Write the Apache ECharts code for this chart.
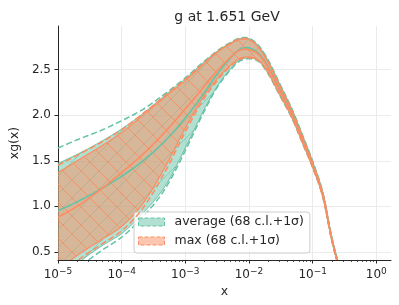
<!DOCTYPE html>
<html><head><meta charset="utf-8">
<script src="https://cdn.jsdelivr.net/npm/echarts@6/dist/echarts.min.js"></script>
<style>html,body{margin:0;padding:0;background:#fff}#c{width:399px;height:305px}</style>
</head><body><div id="c"></div>
<script>
// ---- data ----
const xs       = [1e-5, 2e-5, 5e-5, 1e-4, 2e-4, 5e-4, 1e-3, 2e-3, 3e-3, 5e-3, 7e-3, 1e-2, 1.5e-2, 2e-2, 3e-2, 5e-2, 7e-2, 0.1, 0.15, 0.2, 0.25, 0.3, 0.4, 0.5, 0.7, 1.0];
const avgCv    = [0.95, 1.05, 1.20, 1.33, 1.48, 1.73, 1.97, 2.25, 2.43, 2.62, 2.72, 2.74, 2.66, 2.53, 2.29, 1.98, 1.73, 1.46, 1.08, 0.64, 0.38, 0.21, 0.07, 0.02, 0.002, 0];
const avgUp68  = [1.47, 1.57, 1.72, 1.85, 2.00, 2.23, 2.40, 2.59, 2.69, 2.79, 2.84, 2.84, 2.74, 2.60, 2.35, 2.025, 1.77, 1.49, 1.10, 0.655, 0.39, 0.22, 0.075, 0.022, 0.003, 0];
const avgDn68  = [0.12, 0.36, 0.57, 0.70, 0.90, 1.24, 1.64, 2.07, 2.29, 2.50, 2.60, 2.63, 2.58, 2.46, 2.23, 1.935, 1.69, 1.43, 1.06, 0.625, 0.37, 0.20, 0.065, 0.018, 0.001, 0];
const avgUpStd = [1.64, 1.73, 1.84, 1.94, 2.05, 2.245, 2.41, 2.595, 2.695, 2.795, 2.845, 2.845, 2.745, 2.605, 2.355, 2.03, 1.775, 1.495, 1.105, 0.66, 0.395, 0.225, 0.078, 0.024, 0.003, 0];
const avgDnStd = [0.05, 0.30, 0.52, 0.66, 0.86, 1.21, 1.61, 2.05, 2.28, 2.49, 2.59, 2.62, 2.575, 2.455, 2.225, 1.93, 1.685, 1.425, 1.055, 0.62, 0.365, 0.195, 0.062, 0.016, 0.001, 0];
const maxCv    = [0.88, 1.00, 1.20, 1.37, 1.55, 1.83, 2.07, 2.32, 2.47, 2.63, 2.71, 2.72, 2.65, 2.52, 2.28, 1.97, 1.72, 1.45, 1.075, 0.635, 0.375, 0.205, 0.068, 0.02, 0.002, 0];
const maxUp68  = [1.37, 1.50, 1.67, 1.81, 1.98, 2.21, 2.38, 2.57, 2.68, 2.78, 2.83, 2.83, 2.72, 2.58, 2.33, 2.01, 1.755, 1.475, 1.09, 0.645, 0.385, 0.215, 0.072, 0.021, 0.003, 0];
const maxDn68  = [0.30, 0.46, 0.64, 0.78, 1.00, 1.45, 1.86, 2.22, 2.38, 2.54, 2.62, 2.64, 2.59, 2.47, 2.24, 1.94, 1.69, 1.43, 1.06, 0.625, 0.365, 0.198, 0.064, 0.018, 0.001, 0];
const maxUpStd = [1.45, 1.56, 1.71, 1.84, 2.00, 2.225, 2.395, 2.58, 2.685, 2.785, 2.835, 2.835, 2.725, 2.585, 2.335, 2.015, 1.76, 1.48, 1.095, 0.65, 0.39, 0.22, 0.074, 0.022, 0.003, 0];
const maxDnStd = [0.22, 0.40, 0.59, 0.73, 0.95, 1.40, 1.82, 2.19, 2.36, 2.53, 2.61, 2.63, 2.585, 2.465, 2.235, 1.935, 1.685, 1.425, 1.055, 0.62, 0.36, 0.195, 0.062, 0.017, 0.001, 0];
const legendNames = ['average (68 c.l.+1σ)', 'max (68 c.l.+1σ)'];
const titleText = 'g at 1.651 GeV';
const xName = 'x', yName = 'xg(x)';
const xMin = 1e-5, xMax = 1.7, yMin = 0.41, yMax = 2.98;

// ---- styling ----
const FONT = 'DejaVu Sans';
const G = '#66c2a5', O = '#fc8d62', INK = '#262626';

function hatch(dir, fill, line, lw, s) {
  const c = document.createElement('canvas'); c.width = s; c.height = s;
  const g = c.getContext('2d');
  g.fillStyle = fill; g.fillRect(0, 0, s, s);
  g.strokeStyle = line; g.lineWidth = lw; g.beginPath();
  if (dir === '/') {
    g.moveTo(-2, s + 2); g.lineTo(s + 2, -2);
    g.moveTo(-2, 2); g.lineTo(2, -2);
    g.moveTo(s - 2, s + 2); g.lineTo(s + 2, s - 2);
  } else {
    g.moveTo(-2, -2); g.lineTo(s + 2, s + 2);
    g.moveTo(s - 2, -2); g.lineTo(s + 2, 2);
    g.moveTo(-2, s - 2); g.lineTo(2, s + 2);
  }
  g.stroke();
  return c;
}
const gPat = hatch('/', 'rgba(102,194,165,0.5)', 'rgba(102,194,165,0.55)', 1, 18);
const oPat = hatch('\\', 'rgba(252,141,98,0.5)', 'rgba(252,141,98,0.95)', 1, 18);

// smooth curve through pixel points (cubic Hermite, y as function of x)
function smoothPts(P) {
  const n = P.length, d = [], m = [];
  for (let i = 0; i < n - 1; i++) d.push((P[i + 1][1] - P[i][1]) / (P[i + 1][0] - P[i][0]));
  for (let i = 0; i < n; i++) {
    if (i === 0) m.push(d[0]);
    else if (i === n - 1) m.push(d[n - 2]);
    else { const h0 = P[i][0] - P[i - 1][0], h1 = P[i + 1][0] - P[i][0]; m.push((d[i - 1] * h1 + d[i] * h0) / (h0 + h1)); }
  }
  const out = [P[0]];
  for (let i = 0; i < n - 1; i++) {
    const h = P[i + 1][0] - P[i][0], steps = Math.max(2, Math.ceil(h / 1.5));
    for (let s = 1; s <= steps; s++) {
      const t = s / steps, t2 = t * t, t3 = t2 * t;
      const y = (2 * t3 - 3 * t2 + 1) * P[i][1] + (t3 - 2 * t2 + t) * h * m[i] + (-2 * t3 + 3 * t2) * P[i + 1][1] + (t3 - t2) * h * m[i + 1];
      out.push([P[i][0] + h * t, y]);
    }
  }
  return out;
}
function clipOf(params) { const c = params.coordSys; return { type: 'rect', shape: { x: c.x, y: c.y, width: c.width, height: c.height } }; }
function curve(api, ys) { return smoothPts(xs.map((x, i) => api.coord([x, ys[i]]))); }

function bandSeries(name, up, dn, pattern, edge, edgeW) {
  return {
    type: 'custom', name, silent: true, z: 1, data: [[1e-3, 1]],
    renderItem: (params, api) => {
      const top = curve(api, up), bot = curve(api, dn);
      return { type: 'group', clipPath: clipOf(params), children: [
        { type: 'polygon', shape: { points: top.concat(bot.slice().reverse()) }, style: { fill: { image: pattern, repeat: 'repeat' }, stroke: null } },
        { type: 'polyline', shape: { points: top }, style: { stroke: edge, lineWidth: edgeW, fill: null } },
        { type: 'polyline', shape: { points: bot }, style: { stroke: edge, lineWidth: edgeW, fill: null } }
      ] };
    }
  };
}
function lineSeries(name, ys, color, width, dash, z) {
  return {
    type: 'custom', name, silent: true, z, data: [[1e-3, 1]],
    renderItem: (params, api) => ({ type: 'group', clipPath: clipOf(params), children: [
      { type: 'polyline', shape: { points: curve(api, ys) }, style: { stroke: color, lineWidth: width, fill: null, lineDash: dash || null } }
    ] })
  };
}

const minorTicks = [];
for (let e = -5; e <= 0; e++) for (let k = 2; k <= 9; k++) { const v = k * Math.pow(10, e); if (v <= xMax) minorTicks.push(v); }

const chart = echarts.init(document.getElementById('c'), null, { renderer: 'canvas' });
chart.setOption({
  animation: false,
  backgroundColor: '#fff',
  textStyle: { fontFamily: FONT },
  title: { text: titleText, left: 222, top: 5, textAlign: 'center',
    textStyle: { fontFamily: FONT, fontSize: 14, fontWeight: 'normal', color: INK } },
  grid: { left: 53, right: 8, top: 26, bottom: 45, containLabel: false },
  legend: {
    orient: 'vertical', left: 134, top: 212, selectedMode: false,
    data: [
      { name: legendNames[0], itemStyle: { color: 'rgba(102,194,165,0.5)', borderColor: G, borderWidth: 1, borderType: 'dashed' } },
      { name: legendNames[1], itemStyle: { color: 'rgba(252,141,98,0.5)', borderColor: O, borderWidth: 1, borderType: 'dashed' } }
    ],
    icon: 'rect', itemWidth: 26, itemHeight: 8, itemGap: 5,
    padding: [3, 6, 5, 4],
    backgroundColor: 'rgba(255,255,255,0.8)', borderColor: '#cccccc', borderWidth: 1, borderRadius: 3,
    textStyle: { fontFamily: FONT, fontSize: 12.5, color: INK, lineHeight: 14, padding: [0, 0, 0, 5] }
  },
  xAxis: {
    type: 'log', logBase: 10, min: xMin, max: xMax,
    name: xName, nameLocation: 'middle', nameGap: 24,
    nameTextStyle: { fontFamily: FONT, fontSize: 12.5, color: INK },
    axisLine: { show: true, onZero: false, lineStyle: { color: INK, width: 1 } },
    axisTick: { show: true, inside: false, length: 3.5, lineStyle: { color: INK } },
    splitLine: { show: true, showMaxLine: false, lineStyle: { color: '#ebebeb', width: 1 } },
    axisLabel: {
      margin: 7, showMaxLabel: false,
      formatter: v => { const e = Math.round(Math.log10(v)); return '{b|10}{s|' + (e < 0 ? '\u2212' : '') + Math.abs(e) + '}'; },
      rich: {
        b: { fontFamily: FONT, fontSize: 12, color: INK },
        s: { fontFamily: FONT, fontSize: 9, color: INK, padding: [0, 0, 6, 0] }
      }
    }
  },
  yAxis: {
    type: 'value', min: yMin, max: yMax, splitNumber: 5,
    name: yName, nameLocation: 'middle', nameGap: 34,
    nameTextStyle: { fontFamily: FONT, fontSize: 12.5, color: INK },
    axisLine: { show: true, lineStyle: { color: INK, width: 1 } },
    axisTick: { show: true, inside: false, length: 3.5, lineStyle: { color: INK } },
    splitLine: { show: true, showMinLine: false, showMaxLine: false, lineStyle: { color: '#ebebeb', width: 1 } },
    axisLabel: { margin: 7, showMinLabel: false, showMaxLabel: false, fontFamily: FONT, fontSize: 12, color: INK,
      formatter: v => v.toFixed(1) }
  },
  series: [
    bandSeries(legendNames[0], avgUp68, avgDn68, gPat, G, 1),
    bandSeries(legendNames[1], maxUp68, maxDn68, oPat, O, 1.2),
    lineSeries('avg central', avgCv, G, 1.6, null, 3),
    lineSeries('avg +1σ', avgUpStd, G, 1.5, [6, 3], 3),
    lineSeries('avg -1σ', avgDnStd, G, 1.5, [6, 3], 3),
    lineSeries('max central', maxCv, O, 1.6, null, 4),
    lineSeries('max +1σ', maxUpStd, O, 1.5, [6, 3], 4),
    lineSeries('max -1σ', maxDnStd, O, 1.5, [6, 3], 4),
    { type: 'custom', name: 'minorTicks', silent: true, clip: false, z: 5,
      data: minorTicks.map(v => [v, yMin]),
      renderItem: (params, api) => {
        const p = api.coord([api.value(0), api.value(1)]);
        return { type: 'line', shape: { x1: Math.round(p[0]) + 0.5, y1: p[1], x2: Math.round(p[0]) + 0.5, y2: p[1] + 2 },
          style: { stroke: INK, lineWidth: 0.8 } };
      } }
  ]
});
</script></body></html>
